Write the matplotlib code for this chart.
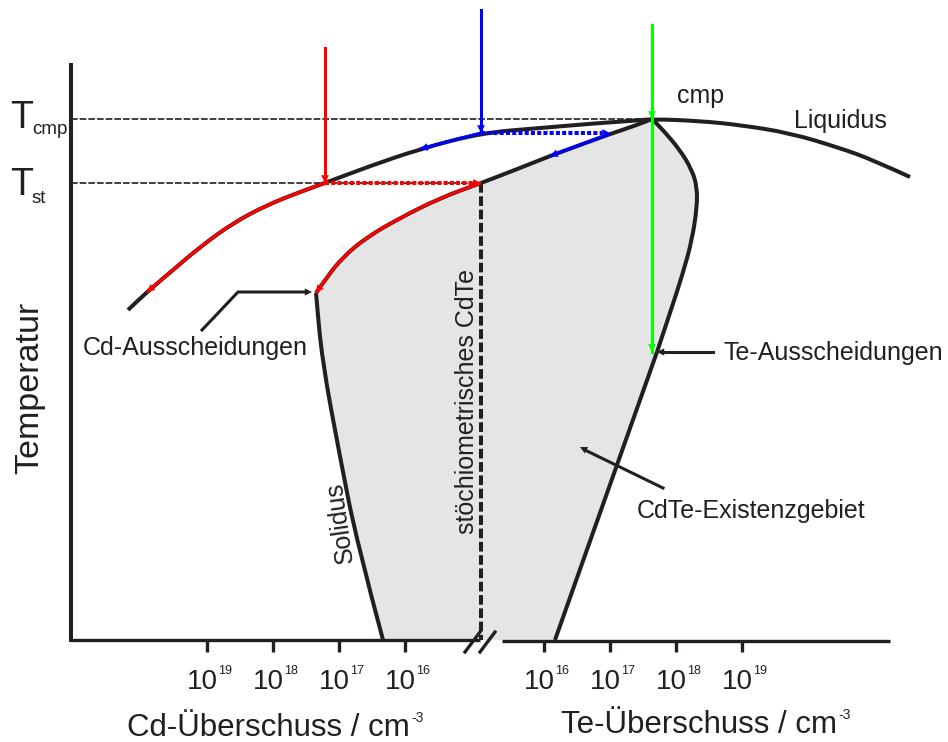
import matplotlib.pyplot as plt
from matplotlib.path import Path
from matplotlib.patches import PathPatch

# Zustandsdiagramm CdTe (schematisch): Liquidus, Solidus und Abkuehlpfade
plt.rcParams['font.family'] = ['Liberation Sans', 'DejaVu Sans']

ink = '#231f20'
grau = '#e5e5e5'

# Achsen: x = Abweichung von der Stoechiometrie (willkuerliche Einheiten), y = Temperatur
T_cmp = 521
T_st = 457
x_cmp = 171

# Liquiduslinie von der Cd-Seite ueber den Kongruenzpunkt zur Te-Seite
liquidus_x = [-353, -334, -308, -281, -248, -214, -181, -156, -111, -61, 0, 59, 119, 149, 171, 219, 259, 309, 359, 392, 429]
liquidus_y = [330, 348, 370, 393, 417, 435, 448, 457, 474, 491, 507, 512, 517, 519, 521, 519, 515, 507, 492, 480, 463]

# Solidus Cd-Seite (oben: Stoechiometrie -> Knick, dann nach unten)
cd_oben_x = [0, -41, -81, -114, -138, -154, -165]
cd_oben_y = [457, 442, 422, 403, 383, 363, 347]
cd_unten_x = [-165, -159, -141, -124, -98]
cd_unten_y = [347, 280, 183, 97, 0]

# Solidus Te-Seite (oben: Stoechiometrie -> cmp, Ausbuchtung, dann gerade nach unten)
te_oben_x = [0, 39, 69, 99, 129, 159, 171]
te_oben_y = [457, 472, 484, 495, 506, 516, 521]
te_bogen_x = [171, 182, 199, 211, 216, 216, 211, 202, 189, 176]
te_bogen_y = [521, 510, 490, 470, 453, 433, 400, 367, 327, 288]
te_unten_x = [176, 74]
te_unten_y = [288, 0]

# Achsenteilung
ticks_cd = [-274, -208, -142, -76]
exp_cd = ['19', '18', '17', '16']
ticks_te = [63, 129, 195, 261]
exp_te = ['16', '17', '18', '19']

# Abkuehlpfade: Zusammensetzung und Starttemperatur
rot_x, rot_start = -156, 592
blau_x, blau_start = 0, 630
gruen_x, gruen_start, gruen_ende = 171, 615, 288


def glatt(xs, ys):
    # quadratische Bezier-Kurve durch die Mittelpunkte der Stuetzstellen
    p = list(zip(xs, ys))
    if len(p) == 2:
        return p, [Path.MOVETO, Path.LINETO]
    verts = [p[0], ((p[0][0] + p[1][0]) / 2, (p[0][1] + p[1][1]) / 2)]
    codes = [Path.MOVETO, Path.LINETO]
    for i in range(1, len(p) - 1):
        if i < len(p) - 2:
            end = ((p[i][0] + p[i + 1][0]) / 2, (p[i][1] + p[i + 1][1]) / 2)
        else:
            end = p[i + 1]
        verts += [p[i], end]
        codes += [Path.CURVE3, Path.CURVE3]
    return verts, codes


def linie(ax, xs, ys, farbe, lw, z=3):
    v, c = glatt(xs, ys)
    ax.add_patch(PathPatch(Path(v, c), fill=False, edgecolor=farbe, lw=lw,
                           joinstyle='round', capstyle='butt', zorder=z, clip_on=False))


def spitze(ax, ziel, von, farbe, ms=14):
    ax.annotate('', xy=ziel, xytext=von, annotation_clip=False,
                arrowprops=dict(arrowstyle='-|>', color=farbe, lw=0,
                                mutation_scale=ms, shrinkA=0, shrinkB=0))


fig = plt.figure(figsize=(9.48, 7.42), dpi=100)
ax = fig.add_axes([71 / 948, 102 / 742, 819 / 948, 640 / 742])
ax.set_xlim(-410, 409)
ax.set_ylim(0, 640)

# Existenzgebiet
teile = [(cd_unten_x[::-1], cd_unten_y[::-1]), (cd_oben_x[::-1], cd_oben_y[::-1]),
         (te_oben_x, te_oben_y), (te_bogen_x, te_bogen_y), (te_unten_x, te_unten_y)]
fv, fc = [], []
for xs, ys in teile:
    v, c = glatt(xs, ys)
    if fv:
        c = [Path.LINETO] + c[1:]
    fv += v
    fc += c
fv.append(fv[0])
fc.append(Path.CLOSEPOLY)
ax.add_patch(PathPatch(Path(fv, fc), facecolor=grau, lw=0, zorder=1))

# Hilfslinien T_cmp, T_st und Stoechiometrie
ax.plot([-410, x_cmp], [T_cmp, T_cmp], color=ink, lw=1.2, ls=(0, (4, 1.2)), zorder=2)
ax.plot([-410, 0], [T_st, T_st], color=ink, lw=1.2, ls=(0, (4, 1.2)), zorder=2)
ax.plot([0, 0], [T_st, 0], color=ink, lw=2.9, ls=(0, (2.4, 0.9)),
        dash_capstyle='butt', zorder=2)

# Phasengrenzen
for xs, ys in [(liquidus_x, liquidus_y), (cd_oben_x, cd_oben_y), (cd_unten_x, cd_unten_y),
               (te_oben_x, te_oben_y), (te_bogen_x, te_bogen_y), (te_unten_x, te_unten_y)]:
    linie(ax, xs, ys, ink, 2.9)

# roter Pfad
ax.plot([rot_x, rot_x], [rot_start, T_st], color='red', lw=2.2, zorder=4, clip_on=False)
spitze(ax, (rot_x, T_st), (rot_x, T_st + 20), 'red')
ax.plot([rot_x, -8], [T_st, T_st], color='red', lw=2.9, ls=(0, (1, 0.55)),
        dash_capstyle='butt', zorder=4)
spitze(ax, (0, T_st), (-10, T_st), 'red')
seg = [(x, y) for x, y in zip(liquidus_x, liquidus_y) if -334 <= x <= rot_x]
linie(ax, [p[0] for p in seg], [p[1] for p in seg], 'red', 2.2, 4)
spitze(ax, seg[0], seg[1], 'red')
linie(ax, cd_oben_x, cd_oben_y, 'red', 2.2, 4)
spitze(ax, (cd_oben_x[-1], cd_oben_y[-1]), (cd_oben_x[-2], cd_oben_y[-2]), 'red')

# blauer Pfad
ax.plot([blau_x, blau_x], [blau_start, 507], color='blue', lw=2.2, zorder=4, clip_on=False)
spitze(ax, (blau_x, 507), (blau_x, 527), 'blue')
ax.plot([blau_x, 121], [507, 507], color='blue', lw=2.9, ls=(0, (1, 0.55)),
        dash_capstyle='butt', zorder=4)
spitze(ax, (129, 507), (119, 507), 'blue')
seg = [(x, y) for x, y in zip(liquidus_x, liquidus_y) if -111 <= x <= blau_x]
linie(ax, [p[0] for p in seg[1:]], [p[1] for p in seg[1:]], 'blue', 2.2, 4)
spitze(ax, seg[1], seg[2], 'blue')
seg = [(x, y) for x, y in zip(te_oben_x, te_oben_y) if 69 <= x <= 129]
linie(ax, [p[0] for p in seg], [p[1] for p in seg], 'blue', 2.2, 4)
spitze(ax, seg[0], seg[1], 'blue')

# gruener Pfad
ax.plot([gruen_x, gruen_x], [gruen_start, gruen_ende], color='#00ff00', lw=2.2,
        zorder=4, clip_on=False)
spitze(ax, (gruen_x, T_cmp), (gruen_x, T_cmp + 20), '#00ff00')
spitze(ax, (gruen_x, gruen_ende), (gruen_x, gruen_ende + 20), '#00ff00')

# Achsen
for s in ['top', 'right', 'bottom']:
    ax.spines[s].set_visible(False)
ax.spines['left'].set_bounds(0, 575)
ax.spines['left'].set_linewidth(2.9)
ax.spines['left'].set_color(ink)
ax.set_yticks([])
ax.set_xticks(ticks_cd + ticks_te)
ax.set_xticklabels([])
ax.tick_params(axis='x', length=8.5, width=2.4, color=ink, direction='out')
ax.plot([-410, -1], [0, 0], color=ink, lw=2.4, clip_on=False, solid_capstyle='butt', zorder=5)
ax.plot([21, 409], [-1, -1], color=ink, lw=2.4, clip_on=False, solid_capstyle='butt', zorder=5)
ax.plot([-16, -1], [-12, 8], color=ink, lw=2.4, clip_on=False, zorder=5)
ax.plot([-1, 14], [-12, 8], color=ink, lw=2.4, clip_on=False, zorder=5)

for t, e in zip(ticks_cd + ticks_te, exp_cd + exp_te):
    ax.text(t - 5, -49, '10', ha='center', va='baseline', fontsize=20, color=ink, clip_on=False)
    ax.text(t + 11, -34, e, ha='left', va='baseline', fontsize=9, color=ink, clip_on=False)

ax.text(-71, -96, 'Cd-Überschuss / cm', ha='right', va='baseline', fontsize=22.5, color=ink)
ax.text(-70, -82, '-3', ha='left', va='baseline', fontsize=10, color=ink)
ax.text(356, -93, 'Te-Überschuss / cm', ha='right', va='baseline', fontsize=22.5, color=ink)
ax.text(357, -79, '-3', ha='left', va='baseline', fontsize=10, color=ink)
fig.text(30 / 948, 1 - 388 / 742, 'Temperatur', rotation=90, ha='center', va='center',
         fontsize=24.5, color=ink)

ax.text(-471, 512, 'T', ha='left', va='baseline', fontsize=27, color=ink, clip_on=False)
ax.text(-449, 506, 'cmp', ha='left', va='baseline', fontsize=13.5, color=ink, clip_on=False)
ax.text(-471, 445, 'T', ha='left', va='baseline', fontsize=27, color=ink, clip_on=False)
ax.text(-449, 437, 'st', ha='left', va='baseline', fontsize=13.5, color=ink, clip_on=False)

# Beschriftungen im Diagramm
ax.text(220, 537, 'cmp', ha='center', va='baseline', fontsize=18, color=ink)
ax.text(359, 512, 'Liquidus', ha='center', va='baseline', fontsize=18, color=ink)
ax.text(-286, 285, 'Cd-Ausscheidungen', ha='center', va='baseline', fontsize=18, color=ink)
ax.plot([-279, -243, -175], [310, 348, 348], color=ink, lw=2.2, zorder=5)
spitze(ax, (-169, 348), (-185, 348), ink, ms=13)
ax.text(242, 280, 'Te-Ausscheidungen', ha='left', va='baseline', fontsize=18, color=ink)
ax.plot([232, 182], [288, 288], color=ink, lw=2.2, zorder=5)
spitze(ax, (176, 288), (192, 288), ink, ms=13)
ax.text(156, 122, 'CdTe-Existenzgebiet', ha='left', va='baseline', fontsize=18, color=ink)
ax.plot([182, 104], [152, 190], color=ink, lw=2.2, zorder=5)
spitze(ax, (99, 193), (115, 185), ink, ms=13)
ax.text(-141, 118, 'Solidus', rotation=98, ha='center', va='center', fontsize=18, color=ink)
ax.text(-14, 238, 'stöchiometrisches CdTe', rotation=90, ha='center', va='center',
        fontsize=18, color=ink)

fig.savefig('out.png', dpi=100)
